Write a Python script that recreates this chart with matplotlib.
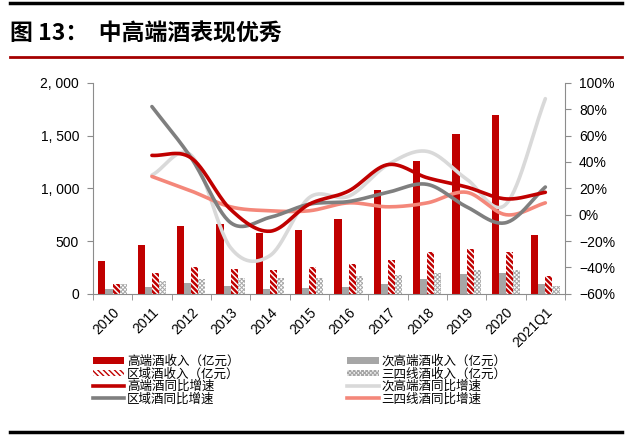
import numpy as np
import matplotlib
matplotlib.use("Agg")
import matplotlib.pyplot as plt
from matplotlib.lines import Line2D
from matplotlib.patches import Patch

plt.rcParams['font.family'] = ['Liberation Sans', 'Noto Sans CJK SC', 'DejaVu Sans']

years = ['2010', '2011', '2012', '2013', '2014', '2015', '2016', '2017',
         '2018', '2019', '2020', '2021Q1']

# revenue, 亿元 (left axis)
rev_high = [316, 461, 645, 660, 575, 604, 711, 985, 1263, 1517, 1697, 559]
rev_subhigh = [47, 66, 107, 73, 47, 57, 66, 95, 139, 190, 202, 95]
rev_region = [95, 196, 256, 234, 227, 256, 281, 322, 395, 423, 395, 171]
rev_lower = [90, 123, 142, 152, 152, 155, 171, 177, 196, 224, 224, 70]

# yoy growth, % (right axis), 2011 .. 2021Q1
yoy_high = [45, 43, 4, -12.5, 8, 18, 38, 28, 21, 12, 17]
yoy_subhigh = [30, 45, -25, -31, 13, 14, 38, 48, 27, 8, 88]
yoy_region = [82, 43, -6, -2, 8, 10, 17, 23, 6, -6, 21]
yoy_lower = [29, 18, 6, 3, 3, 9, 6, 9, 17, 0, 9]

RED = '#C00000'
GRAY = '#A6A6A6'
DGRAY = '#7F7F7F'
LGRAY = '#D9D9D9'
SALMON = '#F4877A'
AXC = '#8C8C8C'


def smooth(xs, ys, n=30):
    # Catmull-Rom, like Excel's smoothed line
    xs = np.asarray(xs, float)
    ys = np.asarray(ys, float)
    px = np.concatenate([[2 * xs[0] - xs[1]], xs, [2 * xs[-1] - xs[-2]]])
    py = np.concatenate([[2 * ys[0] - ys[1]], ys, [2 * ys[-1] - ys[-2]]])
    outx, outy = [], []
    t = np.linspace(0, 1, n)
    for i in range(1, len(px) - 2):
        for p, out in ((px, outx), (py, outy)):
            p0, p1, p2, p3 = p[i - 1], p[i], p[i + 1], p[i + 2]
            out.extend(0.5 * (2 * p1 + (-p0 + p2) * t
                              + (2 * p0 - 5 * p1 + 4 * p2 - p3) * t ** 2
                              + (-p0 + 3 * p1 - 3 * p2 + p3) * t ** 3))
    return outx, outy


fig = plt.figure(figsize=(6.32, 4.36), dpi=100)
ax = fig.add_axes([0.147, 0.326, 0.747, 0.484])
ax2 = ax.twinx()

x = np.arange(len(years))
w = 0.18
with plt.rc_context({'hatch.linewidth': 1.8}):
    ax.bar(x - 1.5 * w, rev_high, w, color=RED, linewidth=0, zorder=2)
    ax.bar(x - 0.5 * w, rev_subhigh, w, color=GRAY, linewidth=0, zorder=2)
    ax.bar(x + 0.5 * w, rev_region, w, facecolor='white', edgecolor=RED,
           hatch='\\\\\\\\\\\\', linewidth=0, zorder=2)
with plt.rc_context({'hatch.linewidth': 0.7}):
    ax.bar(x + 1.5 * w, rev_lower, w, facecolor='white', edgecolor=GRAY,
           hatch='xxxxxxxx', linewidth=0, zorder=2)

xl = x[1:]
for ys, c in ((yoy_subhigh, LGRAY), (yoy_lower, SALMON),
              (yoy_region, DGRAY), (yoy_high, RED)):
    sx, sy = smooth(xl, ys)
    ax2.plot(sx, sy, color=c, lw=2.6, solid_capstyle='round')

ax.set_xlim(-0.5, len(years) - 0.5)
ax.set_ylim(0, 2000)
ax.set_yticks([0, 500, 1000, 1500, 2000])
ax.set_yticklabels(['0', '500', '1, 000', '1, 500', '2, 000'])
ax2.set_ylim(-60, 100)
ax2.set_yticks(range(-60, 101, 20))
ax2.set_yticklabels([f'{v}%'.replace('-', '−') for v in range(-60, 101, 20)])

ax.set_xticks(x)
ax.set_xticklabels(years, rotation=45, ha='right', rotation_mode='anchor')
ax.set_xticks(np.arange(-0.5, len(years)), minor=True)
ax.tick_params(axis='x', which='major', length=0, pad=8, labelsize=10)
ax.tick_params(axis='x', which='minor', length=4, color=AXC, direction='out')
ax.tick_params(axis='y', length=4, color=AXC, labelsize=10, pad=6)
ax2.tick_params(axis='y', length=4, color=AXC, labelsize=10, pad=6)

for a in (ax, ax2):
    a.spines['top'].set_visible(False)
    for s in ('left', 'right', 'bottom'):
        a.spines[s].set_color(AXC)
ax.spines['right'].set_visible(False)
ax2.spines['left'].set_visible(False)
ax2.spines['bottom'].set_visible(False)

with plt.rc_context({'hatch.linewidth': 1.5}):
    hatch_red = Patch(facecolor='white', edgecolor=RED, hatch='\\\\\\\\\\\\',
                      linewidth=0, label='区域酒收入（亿元）')
with plt.rc_context({'hatch.linewidth': 0.7}):
    hatch_gray = Patch(facecolor='white', edgecolor=GRAY, hatch='xxxxxxxx',
                       linewidth=0, label='三四线酒收入（亿元）')
handles = [
    Patch(facecolor=RED, label='高端酒收入（亿元）'),
    hatch_red,
    Line2D([], [], color=RED, lw=2.6, label='高端酒同比增速'),
    Line2D([], [], color=DGRAY, lw=2.6, label='区域酒同比增速'),
    Patch(facecolor=GRAY, label='次高端酒收入（亿元）'),
    hatch_gray,
    Line2D([], [], color=LGRAY, lw=2.6, label='次高端酒同比增速'),
    Line2D([], [], color=SALMON, lw=2.6, label='三四线酒同比增速'),
]
fig.legend(handles=handles, ncol=2, loc='upper left', bbox_to_anchor=(0.147, 0.186),
           frameon=False, prop={'family': ['Noto Sans CJK SC'], 'size': 9},
           handlelength=2.5, handleheight=0.45, labelspacing=-0.04,
           handletextpad=0.25, columnspacing=8.6, borderaxespad=0, borderpad=0)

fig.text(0.016, 0.923, '图 13：  中高端酒表现优秀', fontsize=16.5, fontweight='bold',
         family=['Noto Sans CJK SC'], va='center', ha='left')
fig.add_artist(Line2D([0.016, 0.984], [0.993, 0.993], color='black', lw=2.5))
fig.add_artist(Line2D([0.016, 0.984], [0.869, 0.869], color='#A50000', lw=2))
fig.add_artist(Line2D([0.016, 0.984], [0.010, 0.010], color='black', lw=2.5))

fig.savefig('out.png', dpi=100)
